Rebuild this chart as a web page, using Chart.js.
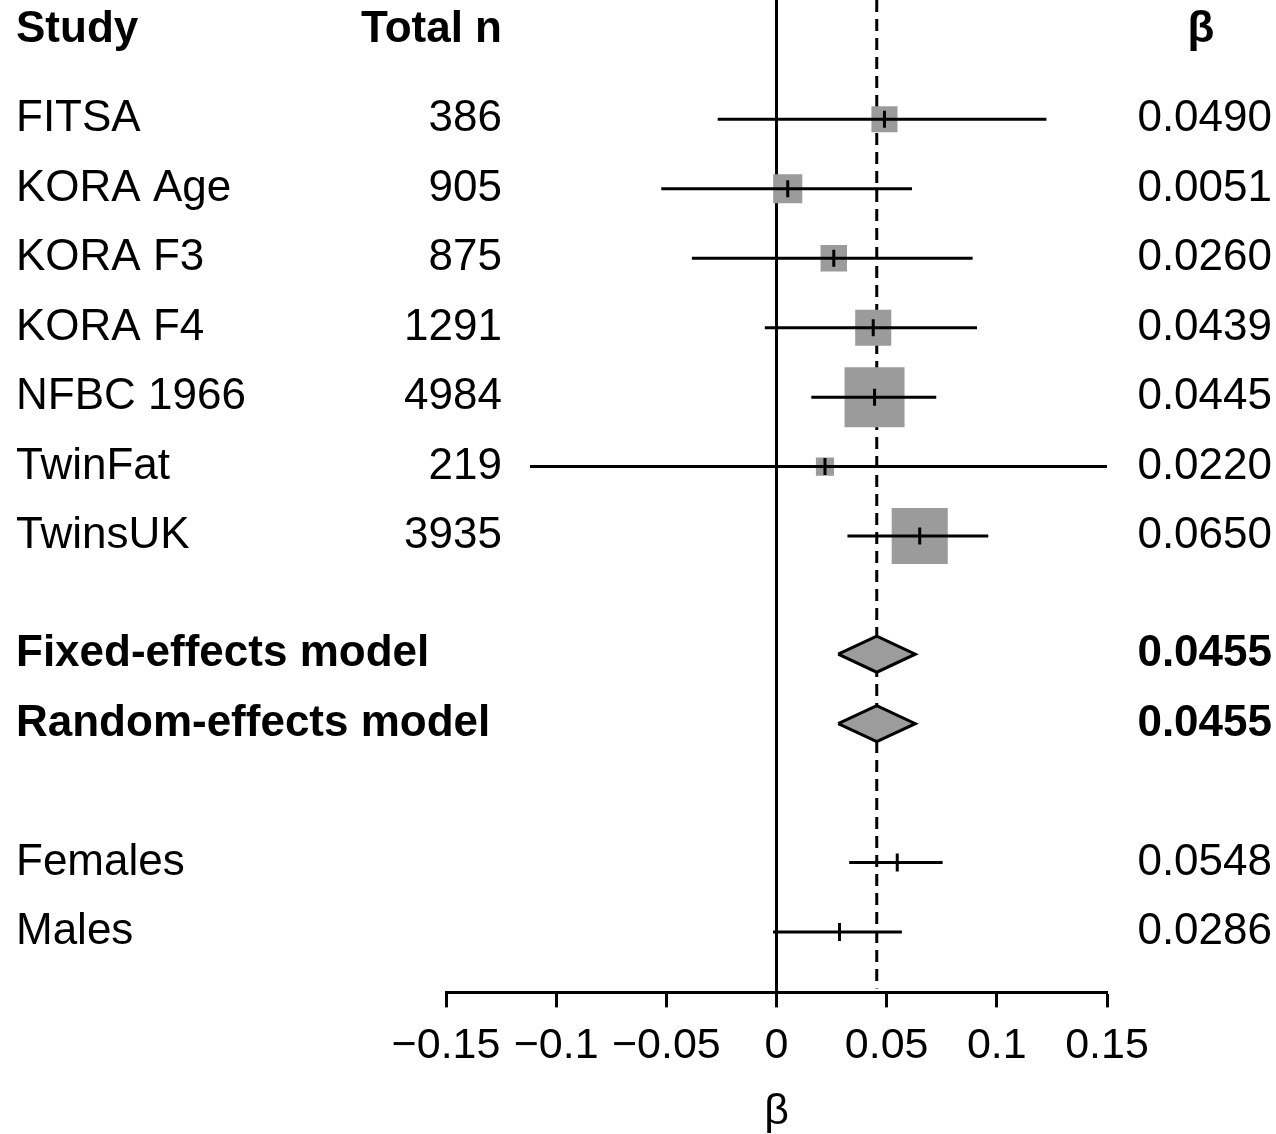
<!DOCTYPE html>
<html lang="en">
<head>
<meta charset="UTF-8">
<title>Forest plot</title>
<script src="https://cdn.jsdelivr.net/npm/chart.js"></script>
<style>
    body { margin: 0; background: #fff; }
    .wrap { width: 1276px; height: 1134px; position: relative; }
</style>
</head>
<body>
<div class="wrap"><canvas id="forest"></canvas></div>
<script>
// study level data
const studies = ['FITSA', 'KORA Age', 'KORA F3', 'KORA F4', 'NFBC 1966', 'TwinFat', 'TwinsUK'];
const totalN = [386, 905, 875, 1291, 4984, 219, 3935];
const beta = [0.0490, 0.0051, 0.0260, 0.0439, 0.0445, 0.0220, 0.0650];
const lower = [-0.0267, -0.0523, -0.0384, -0.0053, 0.0158, -0.1119, 0.0322];
const upper = [0.1225, 0.0615, 0.0890, 0.0910, 0.0725, 0.1540, 0.0961];
const weights = [6.4, 8.0, 6.6, 12.3, 34.0, 3.1, 29.7]; // % weight, sets box area

// pooled estimates
const models = ['Fixed-effects model', 'Random-effects model'];
const modelBeta = [0.0455, 0.0455];
const modelLower = [0.0280, 0.0280];
const modelUpper = [0.0630, 0.0630];

// sex specific
const groups = ['Females', 'Males'];
const groupBeta = [0.0548, 0.0286];
const groupLower = [0.0330, -0.0016];
const groupUpper = [0.0754, 0.0569];

const xTicks = [-0.15, -0.1, -0.05, 0, 0.05, 0.1, 0.15];

// row layout (y units, top to bottom)
const headerRow = -1.28;
const studyRows = studies.map((s, i) => i);
const modelRows = models.map((s, i) => 7.7 + i);
const groupRows = groups.map((s, i) => 10.7 + i);

const FONT = '"Liberation Sans", Arial, Helvetica, sans-serif';
const BOX_GREY = '#9b9b9b';
const diamondHalf = 0.26;

function fmtTick(v) {
    if (v === 0) return '0';
    return (v < 0 ? '\u2212' : '') + String(+Math.abs(v).toFixed(2));
}

const datasets = [];

// vertical marks at the estimates
datasets.push({
    data: studies.map((s, i) => ({ x: beta[i], y: studyRows[i] })),
    pointStyle: 'line', rotation: 90, pointRadius: 8.5,
    borderColor: '#000', pointBorderWidth: 3, order: 0
});
datasets.push({
    data: groups.map((g, i) => ({ x: groupBeta[i], y: groupRows[i] })),
    pointStyle: 'line', rotation: 90, pointRadius: 9,
    borderColor: '#000', pointBorderWidth: 3, order: 0
});

// confidence interval lines
studies.forEach((s, i) => {
    datasets.push({
        type: 'line',
        data: [{ x: lower[i], y: studyRows[i] }, { x: upper[i], y: studyRows[i] }],
        borderColor: '#000', borderWidth: 3, pointRadius: 0, order: 1
    });
});
groups.forEach((g, i) => {
    datasets.push({
        type: 'line',
        data: [{ x: groupLower[i], y: groupRows[i] }, { x: groupUpper[i], y: groupRows[i] }],
        borderColor: '#000', borderWidth: 3, pointRadius: 0, order: 1
    });
});

// weighted boxes
datasets.push({
    data: studies.map((s, i) => ({ x: beta[i], y: studyRows[i] })),
    pointStyle: 'rect',
    pointRadius: ctx => Math.sqrt(weights[ctx.dataIndex]) * 10.29 / Math.SQRT2,
    backgroundColor: BOX_GREY, pointBorderWidth: 0, borderWidth: 0, order: 2
});

// summary diamonds
models.forEach((m, i) => {
    const r = modelRows[i];
    datasets.push({
        type: 'line',
        data: [
            { x: modelLower[i], y: r },
            { x: modelBeta[i], y: r - diamondHalf },
            { x: modelUpper[i], y: r },
            { x: modelBeta[i], y: r + diamondHalf },
            { x: modelLower[i], y: r }
        ],
        fill: 'shape', backgroundColor: '#9c9c9c',
        borderColor: '#000', borderWidth: 3, borderJoinStyle: 'miter',
        pointRadius: 0, tension: 0, order: 2
    });
});

// zero line and pooled (dashed) line
const refLines = {
    id: 'refLines',
    beforeDatasetsDraw(chart) {
        const { ctx, chartArea, scales } = chart;
        const x0 = scales.x.getPixelForValue(0);
        const xp = scales.x.getPixelForValue(modelBeta[0]);
        ctx.save();
        ctx.strokeStyle = '#000';
        ctx.lineWidth = 3;
        ctx.beginPath();
        ctx.moveTo(x0, chartArea.top);
        ctx.lineTo(x0, chartArea.bottom);
        ctx.stroke();
        ctx.setLineDash([12, 7]);
        ctx.beginPath();
        ctx.moveTo(xp, chartArea.top);
        ctx.lineTo(xp, chartArea.bottom - 4);
        ctx.stroke();
        ctx.restore();
    }
};

// text columns
const columns = {
    id: 'columns',
    afterDraw(chart) {
        const { ctx, scales } = chart;
        const y = v => scales.y.getPixelForValue(v);
        const put = (txt, x, row, align, bold) => {
            ctx.font = (bold ? 'bold ' : '') + '44px ' + FONT;
            ctx.textAlign = align;
            ctx.fillText(txt, x, y(row));
        };
        ctx.save();
        ctx.fillStyle = '#000';
        ctx.textBaseline = 'middle';
        put('Study', 16, headerRow, 'left', true);
        put('Total n', 502, headerRow, 'right', true);
        put('\u03b2', 1201, headerRow, 'center', true);
        studies.forEach((s, i) => {
            put(s, 16, studyRows[i], 'left', false);
            put(String(totalN[i]), 502, studyRows[i], 'right', false);
            put(beta[i].toFixed(4), 1272, studyRows[i], 'right', false);
        });
        models.forEach((m, i) => {
            put(m, 16, modelRows[i], 'left', true);
            put(modelBeta[i].toFixed(4), 1272, modelRows[i], 'right', true);
        });
        groups.forEach((g, i) => {
            put(g, 16, groupRows[i], 'left', false);
            put(groupBeta[i].toFixed(4), 1272, groupRows[i], 'right', false);
        });
        ctx.restore();
    }
};

new Chart(document.getElementById('forest'), {
    type: 'scatter',
    data: { datasets },
    options: {
        responsive: true,
        maintainAspectRatio: false,
        animation: false,
        events: [],
        layout: { autoPadding: false, padding: { left: 446, right: 169, top: 0, bottom: 0 } },
        plugins: { legend: { display: false }, tooltip: { enabled: false } },
        scales: {
            x: {
                type: 'linear', min: -0.15, max: 0.15,
                afterBuildTicks: axis => { axis.ticks = xTicks.map(v => ({ value: v })); },
                grid: { display: true, drawOnChartArea: false, drawTicks: true, tickLength: 15, tickWidth: 3, tickColor: '#000' },
                border: { display: true, color: '#000', width: 3 },
                ticks: { color: '#000', padding: 13, maxRotation: 0, autoSkip: false, font: { family: FONT, size: 43 }, callback: fmtTick },
                title: { display: true, text: '\u03b2', color: '#000', font: { family: FONT, size: 43, lineHeight: 1 }, padding: { top: 6, bottom: 0 } }
            },
            y: {
                type: 'linear', display: false, reverse: true,
                min: -1.717, max: 12.569
            }
        }
    },
    plugins: [refLines, columns]
});
</script>
</body>
</html>
